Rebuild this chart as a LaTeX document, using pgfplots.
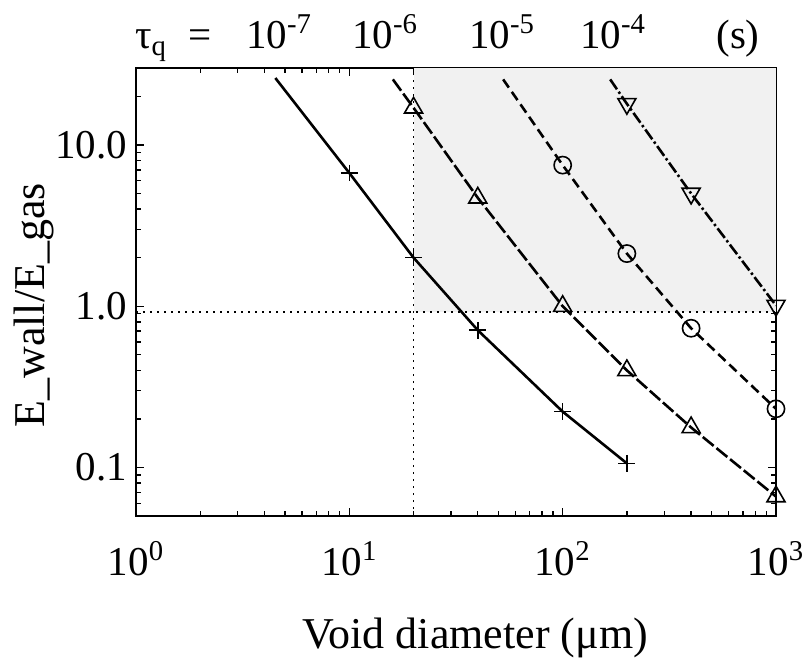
\documentclass[border=0pt]{standalone}
\usepackage{fontspec}
\setmainfont{Liberation Serif}
\usepackage{pgfplots}
\pgfplotsset{compat=1.18}
\begin{document}
\begin{tikzpicture}
\begin{loglogaxis}[
  name=ax,
  scale only axis, width=320pt, height=224pt,
  xmin=1, xmax=1000, ymin=0.05, ymax=30,
  xtick={1,10,100,1000},
  xticklabels={10\textsuperscript{0},10\textsuperscript{1},10\textsuperscript{2},10\textsuperscript{3}},
  ytick={0.1,1,10}, yticklabels={0.1,1.0,10.0},
  minor xtick={2,3,4,5,6,7,8,9,20,30,40,50,60,70,80,90,200,300,400,500,600,700,800,900},
  minor ytick={0.06,0.07,0.08,0.09,0.2,0.3,0.4,0.5,0.6,0.7,0.8,0.9,2,3,4,5,6,7,8,9,20},
  tick align=inside,
  major tick length=4pt, minor tick length=2.5pt,
  every tick/.style={black, line width=0.7pt},
  axis line style={line width=1.2pt},
  tick label style={font=\fontsize{20.5}{24}\selectfont},
  xticklabel style={yshift=-9pt},
  yticklabel style={xshift=-1pt},
  label style={font=\fontsize{22}{26}\selectfont},
  xlabel={Void diameter (μm)},
  xlabel style={at={(axis description cs:0.53,0)}, anchor=base, yshift=-66pt},
  ylabel={E\_wall/E\_gas},
  ylabel style={at={(axis description cs:-0.16,0.47)}, anchor=center},
  clip marker paths=false,
]
% shaded region
\addplot[draw=none, fill=gray!11] coordinates {(20,0.92) (1000,0.92) (1000,30) (20,30)};
% dotted guide lines
\addplot[black, line width=0.8pt, dash pattern=on 0.9pt off 2.6pt] coordinates {(1,0.92) (1000,0.92)};
\addplot[black, line width=0.8pt, dash pattern=on 0.9pt off 2.6pt] coordinates {(20,0.05) (20,30)};
% tau_q = 1e-7
\addplot[black, line width=1.3pt, mark=+, mark size=4.2pt, mark indices={2,3,4,5,6},
  mark options={solid, line width=0.8pt}]
  coordinates {(4.5,26) (10,6.7) (20,2.0) (40,0.71) (100,0.222) (200,0.106)};
% tau_q = 1e-6
\addplot[black, line width=1.3pt, dash pattern=on 7pt off 1.8pt, mark=triangle, mark size=5.2pt, mark indices={2,3,4,5,6,7},
  mark options={solid, fill=white, line width=0.8pt}]
  coordinates {(16,25.5) (20,17) (40,4.7) (100,1.0) (200,0.40) (400,0.177) (1000,0.066)};
% tau_q = 1e-5
\addplot[black, line width=1.3pt, dash pattern=on 5pt off 2.6pt, mark=o, mark size=4.3pt, mark indices={2,3,4,5},
  mark options={solid, fill=white, line width=0.8pt}]
  coordinates {(52.6,25.5) (100,7.5) (200,2.12) (400,0.73) (1000,0.231)};
% tau_q = 1e-4
\addplot[black, line width=1.3pt, dash pattern=on 6pt off 1.5pt on 1.2pt off 1.5pt, mark=triangle, mark size=5.2pt, mark indices={2,3,4},
  mark options={solid, fill=white, line width=0.8pt, rotate=180}]
  coordinates {(167,25.5) (200,18) (400,5.0) (1000,1.01)};
\end{loglogaxis}
\begin{scope}[font=\fontsize{20.5}{24}\selectfont]
\node[anchor=base] at ([xshift=7.5pt,yshift=9.5pt]ax.north west) {τ\textsubscript{q}};
\node[anchor=base] at ([xshift=32pt,yshift=9.5pt]ax.north west) {=};
\node[anchor=base] at ([xshift=71.5pt,yshift=9.5pt]ax.north west) {10\textsuperscript{-7}};
\node[anchor=base] at ([xshift=124.5pt,yshift=9.5pt]ax.north west) {10\textsuperscript{-6}};
\node[anchor=base] at ([xshift=183pt,yshift=9.5pt]ax.north west) {10\textsuperscript{-5}};
\node[anchor=base] at ([xshift=238.5pt,yshift=9.5pt]ax.north west) {10\textsuperscript{-4}};
\node[anchor=base] at ([xshift=301pt,yshift=9.5pt]ax.north west) {(s)};
\end{scope}
\pgfresetboundingbox
\path[use as bounding box] ([xshift=-68pt,yshift=-74.5pt]ax.south west) rectangle ([xshift=15pt,yshift=34pt]ax.north east);
\end{tikzpicture}
\end{document}
